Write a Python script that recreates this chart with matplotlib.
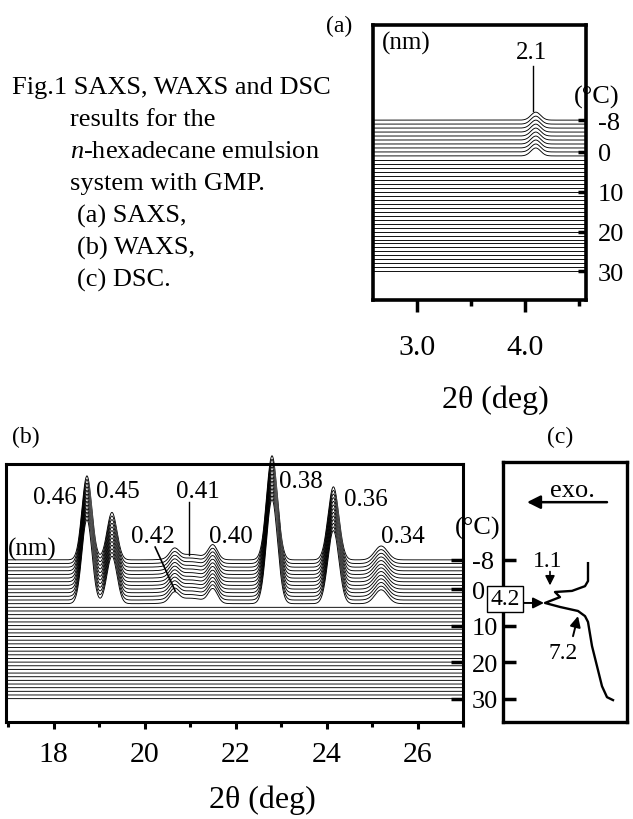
import numpy as np
import matplotlib
matplotlib.use("Agg")
import matplotlib.pyplot as plt

plt.rcParams['font.family'] = ['Liberation Serif', 'DejaVu Serif']
plt.rcParams['mathtext.fontset'] = 'custom'
plt.rcParams['mathtext.rm'] = 'Liberation Serif'
plt.rcParams['mathtext.it'] = 'Liberation Serif:italic'
plt.rcParams['axes.unicode_minus'] = False

W, H = 633, 820  # figure size in pixels

# scan temperatures (deg C), back (top) trace first
temps = list(range(-8, 31))

# (a) SAXS peak (height in deg C of offset)
saxs_label = ["2.1"]
saxs_pos = [4.10]
saxs_height = [2.0]
saxs_width = [0.045]
saxs_last_temp = 1

# (b) WAXS peaks
waxs_label = ["0.46", "0.45", "0.42", "0.41", "0.40", "0.38", "0.36", "0.34"]
waxs_pos = [18.73, 19.28, 20.65, 21.0, 21.5, 22.8, 24.15, 25.2]
waxs_height = [23.0, 13.0, 2.5, 1.5, 3.8, 28.5, 20.0, 3.8]
waxs_width = [0.11, 0.11, 0.10, 0.30, 0.10, 0.12, 0.12, 0.14]
waxs_last_temp = 4

# (c) DSC trace (heat flow, arbitrary units)
dsc_temp = [-7.1, -2.2, -0.8, 0.5, 0.8, 2.2, 3.8, 4.9, 6.0, 7.4, 9.0,
            15.6, 21.1, 26.6, 29.6, 30.4]
dsc_flow = [85, 85, 82, 69, 52, 57, 42, 57, 75, 82, 85,
            89, 94, 99, 104, 110]

temp_ticks = [-8, 0, 10, 20, 30]


def box(x0, y0, x1, y1):
    return [x0 / W, 1 - y1 / H, (x1 - x0) / W, (y1 - y0) / H]


def ftext(px, py, s, **kw):
    fig.text(px / W, 1 - py / H, s, ha=kw.pop('ha', 'center'),
             va=kw.pop('va', 'center'), **kw)


def profile(x, pos, height, width, t, t_last):
    y = np.zeros_like(x)
    if t <= t_last:
        for p, h, w in zip(pos, height, width):
            y += h * np.exp(-0.5 * ((x - p) / w) ** 2)
    return y


def waterfall(ax, x, pos, height, width, t_last):
    # back traces first, each one hides what lies under it
    for i, t in enumerate(temps):
        y = t - profile(x, pos, height, width, t, t_last)
        ax.fill_between(x, y, t + 6, color='white', lw=0, zorder=1 + i * 0.01)
        ax.plot(x, y, color='k', lw=0.65, zorder=1.005 + i * 0.01,
                clip_on=False)


def style_spines(ax, lw):
    for s in ax.spines.values():
        s.set_linewidth(lw)
        s.set_zorder(3)


fig = plt.figure(figsize=(W / 100, H / 100), dpi=100)

# ---------------- (a) SAXS ----------------
ax_a = fig.add_axes(box(373, 26, 586, 301))
xa = np.linspace(2.593, 4.565, 800)
waterfall(ax_a, xa, saxs_pos, saxs_height, saxs_width, saxs_last_temp)
ax_a.set_xlim(2.593, 4.565)
ax_a.set_ylim(37.2, -31.9)
ax_a.set_xticks([3.0, 4.0])
ax_a.set_xticklabels(["3.0", "4.0"])
ax_a.set_xticks([3.5, 4.5], minor=True)
ax_a.tick_params(axis='x', which='major', direction='out', length=8.5,
                 width=2.5, pad=16, labelsize=21.5)
ax_a.tick_params(axis='x', which='minor', direction='out', length=4.5, width=2.5)
ax_a.yaxis.tick_right()
ax_a.set_yticks(temp_ticks)
ax_a.tick_params(axis='y', direction='in', length=6, width=2.5, pad=8.5,
                 labelsize=19)
style_spines(ax_a, 2.6)
ax_a.text(0.155, 0.935, "(nm)", transform=ax_a.transAxes, ha='center',
          va='center', fontsize=18)
ax_a.text(4.065, -25.0, saxs_label[0], ha='center', va='center', fontsize=18)
ax_a.plot([4.078, 4.078], [-21.6, -10.3], color='k', lw=1.0, zorder=5)

ftext(339, 26, "(a)", fontsize=17)
ftext(597, 97, "(°C)", fontsize=19, zorder=10)
ftext(495, 400, "2θ (deg)", fontsize=23)

# caption
ftext(12, 88, "Fig.1 SAXS, WAXS and DSC", ha='left', fontsize=19)
ftext(70, 120, "results for the", ha='left', fontsize=19)
ftext(70, 152, r"$\mathit{n}$-hexadecane emulsion", ha='left', fontsize=19)
ftext(70, 184, "system with GMP.", ha='left', fontsize=19)
ftext(77, 216, "(a) SAXS,", ha='left', fontsize=19)
ftext(77, 248, "(b) WAXS,", ha='left', fontsize=19)
ftext(77, 280, "(c) DSC.", ha='left', fontsize=19)

# ---------------- (b) WAXS ----------------
ax_b = fig.add_axes(box(6, 465, 463, 723))
xb = np.linspace(16.95, 27.0, 1500)
waterfall(ax_b, xb, waxs_pos, waxs_height, waxs_width, waxs_last_temp)
ax_b.set_xlim(16.95, 27.0)
ax_b.set_ylim(36.4, -34.25)
ax_b.set_xticks([18, 20, 22, 24, 26])
ax_b.set_xticks([17, 19, 21, 23, 25, 27], minor=True)
ax_b.tick_params(axis='x', which='major', direction='out', length=5,
                 width=2.2, pad=9, labelsize=21.5)
ax_b.tick_params(axis='x', which='minor', direction='out', length=3.5, width=2.2)
ax_b.yaxis.tick_right()
ax_b.set_yticks(temp_ticks)
ax_b.tick_params(axis='y', direction='in', length=9, width=2.5, pad=6.5,
                 labelsize=19)
style_spines(ax_b, 2.2)

label_xy_b = [(18.03, -25.2), (19.41, -26.8), (20.18, -14.5), (21.17, -26.8),
              (21.90, -14.5), (23.44, -29.6), (24.87, -24.7), (25.68, -14.5)]
for lab, (lx, ly) in zip(waxs_label, label_xy_b):
    ax_b.text(lx, ly, lab, ha='center', va='center', fontsize=18, zorder=6)
ax_b.plot([20.23, 20.67], [-11.5, 0.5], color='k', lw=1.2, zorder=6)
ax_b.plot([20.97, 20.97], [-23.8, -9.3], color='k', lw=1.0, zorder=6)
ax_b.text(17.52, -11.0, "(nm)", ha='center', va='center', fontsize=18, zorder=6)

ftext(26, 437, "(b)", fontsize=17)
ftext(478, 528, "(°C)", fontsize=19, zorder=10)
ftext(262, 800, "2θ (deg)", fontsize=23)

# ---------------- (c) DSC ----------------
ax_c = fig.add_axes(box(503, 463, 627, 723))
ax_c.plot(dsc_flow, dsc_temp, color='k', lw=1.7)
ax_c.set_xlim(0, 124)
ax_c.set_ylim(36.4, -34.8)
ax_c.set_xticks([])
ax_c.set_yticks(temp_ticks)
ax_c.set_yticklabels([])
ax_c.tick_params(axis='y', direction='in', length=9, width=2.5)
style_spines(ax_c, 2.4)

ax_c.text(69, -27.1, "exo.", ha='center', va='center', fontsize=19)
ax_c.annotate("", xy=(24, -23.8), xytext=(104, -23.8),
              arrowprops=dict(arrowstyle='-|>', color='k', lw=1.8,
                              mutation_scale=20, shrinkA=0, shrinkB=0))
ax_c.text(45, -7.7, "1.1", ha='center', va='center', fontsize=17)
ax_c.annotate("", xy=(47, -1.0), xytext=(47, -4.8),
              arrowprops=dict(arrowstyle='-|>', color='k', lw=1.2,
                              mutation_scale=14, shrinkA=0, shrinkB=0))
ax_c.text(2, 2.7, "4.2", ha='center', va='center', fontsize=17, zorder=6,
          clip_on=False,
          bbox=dict(boxstyle='square,pad=0.12', fc='white', ec='k', lw=1.0))
ax_c.annotate("", xy=(41, 3.8), xytext=(19, 3.8),
              arrowprops=dict(arrowstyle='-|>', color='k', lw=1.4,
                              mutation_scale=16, shrinkA=0, shrinkB=0))
ax_c.text(60, 17.3, "7.2", ha='center', va='center', fontsize=17)
ax_c.annotate("", xy=(75, 7.4), xytext=(70, 12.9),
              arrowprops=dict(arrowstyle='-|>', color='k', lw=1.4,
                              mutation_scale=16, shrinkA=0, shrinkB=0))

ftext(560, 437, "(c)", fontsize=17)

fig.savefig("out.png", dpi=100)
